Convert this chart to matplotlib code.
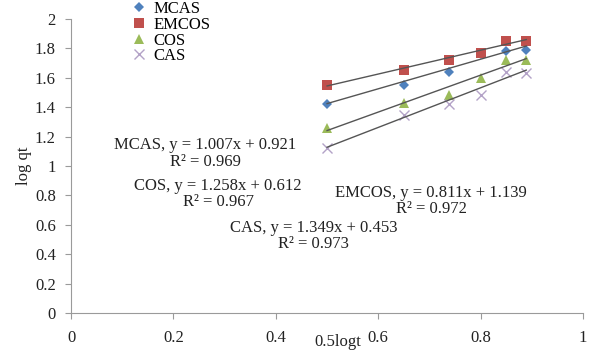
import numpy as np
import matplotlib.pyplot as plt

plt.rcParams['font.family'] = ['Liberation Serif', 'DejaVu Serif']

# 0.5 log t for t = 10 ... 60 min
x = [0.5, 0.651, 0.739, 0.801, 0.849, 0.889]

mcas = [1.42, 1.55, 1.64, 1.76, 1.78, 1.79]
emcos = [1.55, 1.65, 1.72, 1.77, 1.85, 1.85]
cos_ = [1.26, 1.43, 1.48, 1.60, 1.72, 1.72]
cas = [1.12, 1.35, 1.42, 1.48, 1.64, 1.63]

# fitted lines: slope, intercept, R^2
fits = {
    'MCAS': (1.007, 0.921, 0.969),
    'EMCOS': (0.811, 1.139, 0.972),
    'COS': (1.258, 0.612, 0.967),
    'CAS': (1.349, 0.453, 0.973),
}

series = [
    ('MCAS', mcas, 'D', '#4F81BD', 5.5),
    ('EMCOS', emcos, 's', '#C0504D', 7.5),
    ('COS', cos_, '^', '#9BBB59', 7.5),
    ('CAS', cas, 'x', '#B3A2C7', 7.5),
]

FS = 12

fig = plt.figure(figsize=(5.92, 3.52), dpi=100)
ax = fig.add_axes([0.12, 0.111, 0.865, 0.835])

xs = np.array([x[0], x[-1]])
for name, y, m, c, ms in series:
    k, b, r2 = fits[name]
    ax.plot(xs, k * xs + b, color='#555555', lw=1.0, zorder=3)
    ax.plot(x, y, ls='none', marker=m, color=c, ms=ms, mew=1.0 if m == 'x' else 0,
            label=name, zorder=2)

ax.set_xlim(0, 1)
ax.set_ylim(0, 2)
ax.set_xticks(np.arange(0, 1.01, 0.2))
ax.set_yticks(np.arange(0, 2.01, 0.2))
ax.set_xticklabels(['0', '0.2', '0.4', '0.6', '0.8', '1'])
ax.set_yticklabels(['0', '0.2', '0.4', '0.6', '0.8', '1', '1.2', '1.4', '1.6', '1.8', '2'])
for s in ['top', 'right']:
    ax.spines[s].set_visible(False)
for s in ['left', 'bottom']:
    ax.spines[s].set_color('#9a9a9a')
ax.tick_params(axis='both', direction='out', color='#9a9a9a', length=4,
               labelsize=FS, labelcolor='#222222')
ax.tick_params(axis='x', pad=8)
ax.tick_params(axis='y', pad=7)

ax.set_ylabel('log qt', fontsize=FS, color='#222222', labelpad=2)
ax.text(0.52, -0.1, '0.5logt', transform=ax.transAxes, ha='center', va='center',
        fontsize=FS, color='#222222')

def eq_label(name, px, py):
    k, b, r2 = fits[name]
    ax.text(px, py, f'{name}, y = {k:.3f}x + {b:.3f}\nR² = {r2:.3f}',
            ha='center', va='center', fontsize=FS, color='#222222',
            linespacing=1.05, zorder=5)

eq_label('MCAS', 0.262, 1.085)
eq_label('COS', 0.287, 0.81)
eq_label('EMCOS', 0.703, 0.762)
eq_label('CAS', 0.473, 0.524)

ax.legend(loc='upper left', bbox_to_anchor=(0.205, 1.02), bbox_transform=fig.transFigure,
          frameon=False, fontsize=FS, handletextpad=0.3, labelspacing=-0.02,
          borderpad=0.0, handlelength=1.1)

fig.savefig('out.png', dpi=100)
